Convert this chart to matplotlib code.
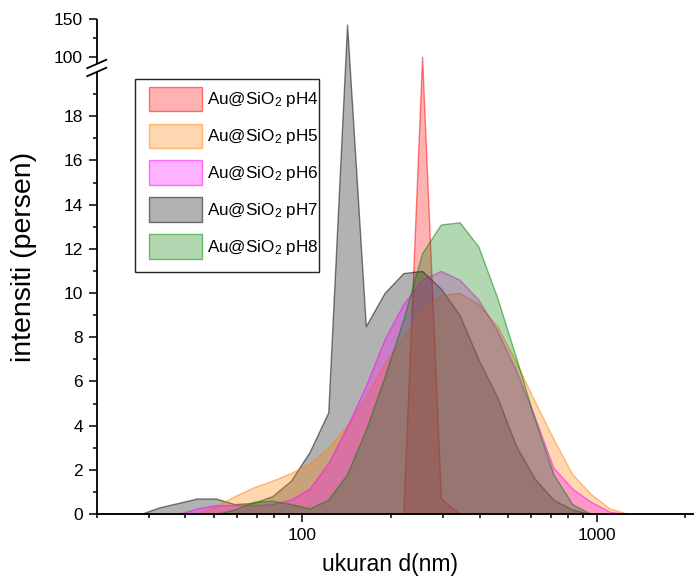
import numpy as np
import matplotlib
matplotlib.use("Agg")
import matplotlib.pyplot as plt
from matplotlib.ticker import FixedLocator, NullFormatter, FuncFormatter, LogLocator
from matplotlib.patches import Rectangle
from matplotlib.lines import Line2D

plt.rcParams['font.family'] = ['Liberation Sans', 'DejaVu Sans']
plt.rcParams['mathtext.fontset'] = 'custom'
plt.rcParams['mathtext.rm'] = 'Liberation Sans'
plt.rcParams['mathtext.it'] = 'Liberation Sans:italic'
plt.rcParams['mathtext.default'] = 'regular'

# ---------------- data ----------------
size_nm = [18.17, 21.04, 24.36, 28.21, 32.67, 37.84, 43.82, 50.75, 58.77, 68.06,
           78.82, 91.28, 105.7, 122.4, 141.8, 164.2, 190.1, 220.2, 255.0, 295.3,
           342.0, 396.1, 458.7, 531.2, 615.1, 712.4, 825.0, 955.4, 1106, 1281,
           1484, 1718, 1990, 2305]

ph4 = [0, 0, 0, 0, 0, 0, 0, 0, 0, 0,
       0, 0, 0, 0, 0, 0, 0, 0, 99.6, 0.7,
       0, 0, 0, 0, 0, 0, 0, 0, 0, 0,
       0, 0, 0, 0]
ph5 = [0, 0, 0, 0, 0, 0, 0, 0.35, 0.8, 1.2,
       1.5, 1.85, 2.3, 3.0, 4.0, 5.3, 6.8, 8.0, 9.2, 9.9,
       10.0, 9.5, 8.5, 6.9, 5.1, 3.4, 1.8, 0.9, 0.25, 0,
       0, 0, 0, 0]
ph6 = [0, 0, 0, 0, 0, 0, 0.25, 0.4, 0.4, 0.4,
       0.45, 0.65, 1.15, 2.3, 3.95, 5.8, 7.9, 9.5, 10.6, 11.0,
       10.6, 9.7, 8.3, 6.5, 4.4, 2.1, 1.15, 0.55, 0.1, 0,
       0, 0, 0, 0]
ph7 = [0, 0, 0, 0, 0.3, 0.5, 0.7, 0.7, 0.45, 0.5,
       0.8, 1.5, 2.8, 4.6, 142.5, 8.5, 10.0, 10.9, 11.0, 10.2,
       9.0, 7.0, 5.3, 3.1, 1.6, 0.65, 0.2, 0, 0, 0,
       0, 0, 0, 0]
ph8 = [0, 0, 0, 0, 0, 0, 0, 0, 0.2, 0.55,
       0.6, 0.45, 0.25, 0.65, 1.8, 3.8, 6.2, 8.8, 11.8, 13.1,
       13.2, 12.1, 9.8, 7.1, 4.3, 1.8, 0.45, 0, 0, 0,
       0, 0, 0, 0]

labels = [r'Au@SiO$_2$ pH4', r'Au@SiO$_2$ pH5', r'Au@SiO$_2$ pH6',
          r'Au@SiO$_2$ pH7', r'Au@SiO$_2$ pH8']
series = [ph4, ph5, ph6, ph7, ph8]
colors = [(1.0, 0.0, 0.0), (1.0, 0.5, 0.0), (1.0, 0.0, 1.0),
          (0.0, 0.0, 0.0), (0.0, 0.5, 0.0)]
draw_order = [0, 3, 1, 2, 4]

y_major = [0, 2, 4, 6, 8, 10, 12, 14, 16, 18, 100, 150]
y_minor = [1, 3, 5, 7, 9, 11, 13, 15, 17, 19, 125]

# ---------------- broken y scale ----------------
LOW_TOP, GAP, UP_LO, UP_K = 20.0, 0.362, 90.0, 0.03394


def fwd(v):
    v = np.asarray(v, dtype=float)
    return np.where(v <= LOW_TOP, v,
                    np.where(v >= UP_LO, LOW_TOP + GAP + (v - UP_LO) * UP_K,
                             LOW_TOP + (v - LOW_TOP) * GAP / (UP_LO - LOW_TOP)))


def inv(t):
    t = np.asarray(t, dtype=float)
    return np.where(t <= LOW_TOP, t,
                    np.where(t >= LOW_TOP + GAP, UP_LO + (t - LOW_TOP - GAP) / UP_K,
                             LOW_TOP + (t - LOW_TOP) * (UP_LO - LOW_TOP) / GAP))


W, H = 694, 579
fig = plt.figure(figsize=(W / 100, H / 100), dpi=100)
ax = fig.add_axes([96.7 / W, (H - 514) / H, (W - 96.7) / W, 495 / H])
ax.set_xscale('log')
ax.set_yscale('function', functions=(fwd, inv))

handles = [None] * 5
for i in draw_order:
    c = colors[i]
    h = ax.fill_between(size_nm, series[i], 0, facecolor=(*c, 0.3),
                        edgecolor=(*c, 0.5), linewidth=1.0, label=labels[i])
    handles[i] = h

ax.set_xlim(20, 2140)
ax.set_ylim(0, 150)

for s in ['top', 'right', 'left']:
    ax.spines[s].set_visible(False)
ax.spines['bottom'].set_linewidth(1.3)

yt = ax.get_yaxis_transform()
ax.plot([0, 0], [0, 20], transform=yt, color='k', lw=1.3, clip_on=False,
        solid_capstyle='butt')
ax.plot([0, 0], [90, 150], transform=yt, color='k', lw=1.3, clip_on=False,
        solid_capstyle='butt')

ax.yaxis.set_major_locator(FixedLocator(y_major))
ax.yaxis.set_minor_locator(FixedLocator(y_minor))
ax.yaxis.set_major_formatter(FuncFormatter(lambda v, p: f"{v:g}"))
ax.yaxis.set_minor_formatter(NullFormatter())
ax.xaxis.set_major_locator(FixedLocator([100, 1000]))
ax.xaxis.set_minor_locator(LogLocator(base=10, subs=np.arange(2, 10)))
ax.xaxis.set_major_formatter(FuncFormatter(lambda v, p: f"{v:g}"))
ax.xaxis.set_minor_formatter(NullFormatter())

ax.tick_params(axis='both', which='major', direction='out', length=6,
               width=1.1, labelsize=12.5, pad=4)
ax.tick_params(axis='both', which='minor', direction='out', length=3, width=1.1)

# break marks
inv_fig = fig.transFigure.inverted()
for yv in (20, 90):
    px, py = yt.transform((0, yv))
    pts = np.array([[px - 9.5, py - 4.2], [px + 9.5, py + 4.2]])
    f = inv_fig.transform(pts)
    fig.add_artist(Line2D(f[:, 0], f[:, 1], color='k', lw=1.3,
                          transform=fig.transFigure))

# legend
leg = ax.legend(handles, labels, loc='upper left',
                bbox_to_anchor=(149.3 / W, 1 - 86.7 / H),
                bbox_transform=fig.transFigure, frameon=False, borderpad=0,
                borderaxespad=0, handlelength=3.06, handleheight=1.82,
                handletextpad=0.32, labelspacing=0.73,
                prop={'family': 'Liberation Sans', 'size': 12.3})
fig.add_artist(Rectangle((135 / W, 1 - 272 / H), 184 / W, 193 / H,
                         transform=fig.transFigure, fill=False,
                         edgecolor='#222222', lw=1.0))

fig.text(390 / W, 1 - 565 / H, 'ukuran d(nm)', ha='center', va='center',
         fontsize=16.5)
fig.text(24 / W, 1 - 257 / H, 'intensiti (persen)', rotation=90,
         ha='center', va='center', fontsize=20.5)

fig.savefig('out.png', dpi=100)
